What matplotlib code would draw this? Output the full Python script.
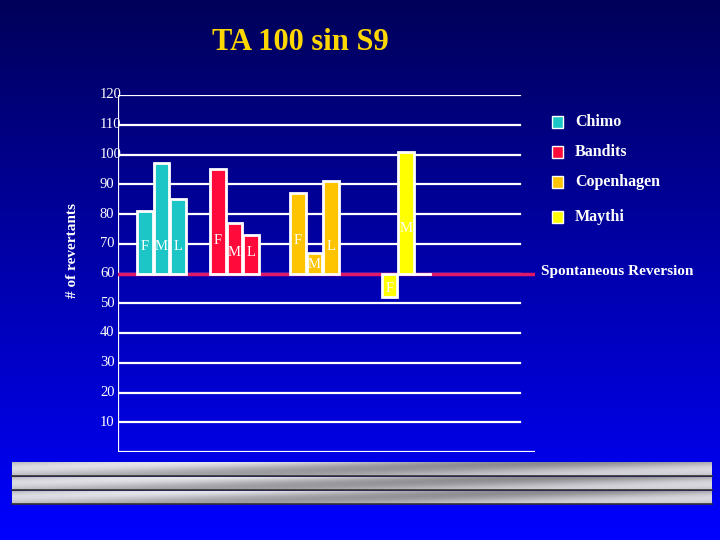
import matplotlib

matplotlib.use("Agg")
import matplotlib.pyplot as plt
import numpy as np

# data
groups = ["Chimo", "Bandits", "Copenhagen", "Maythi"]
colors = ["#1cc6c6", "#ff0a3a", "#ffc400", "#ffff00"]
labels = [["F", "M", "L"], ["F", "M", "L"], ["F", "M", "L"], ["F", "M"]]
values = [[81, 97, 85], [95, 77, 73], [87, 67, 91], [52, 101]]
baseline = 60
yticks = [10, 20, 30, 40, 50, 60, 70, 80, 90, 100, 110, 120]

W, H = 720, 540
fig = plt.figure(figsize=(7.2, 5.4), dpi=100)

# background gradient
bg = fig.add_axes([0, 0, 1, 1])
grad = np.linspace(0, 1, 256)[:, None]
top, bot = np.array([0.0, 0.0, 0.35]), np.array([0.0, 0.0, 1.0])
img = top + (bot - top) * grad[..., None]
bg.imshow(img, aspect="auto", extent=[0, W, H, 0])

# metallic bars at the bottom
for y0, y1 in [(462, 476), (477, 490), (491, 504)]:
    x = np.linspace(0, 1, 400)
    yy = np.linspace(0, 1, 20)[:, None]
    shade = np.clip(0.72 + 0.18 * np.sin(6 * x[None, :] + 3 * yy) * (1 - 0.5 * yy), 0, 1)
    bg.imshow(np.dstack([shade, shade, shade * 1.03]).clip(0, 1), aspect="auto",
              extent=[12, 712, y1, y0])
    bg.plot([12, 712], [y1, y1], color="#333333", lw=1.2)
bg.set_xlim(0, W); bg.set_ylim(H, 0); bg.axis("off")

serif = "Liberation Serif"
fig.text(300 / W, 1 - 43 / H, "TA 100 sin S9", color="#ffd700", fontsize=22,
         fontweight="bold", family=serif, ha="center", va="center")

# chart axes in pixel-like units
x0, x1, ytop, ybot = 118, 535, 95, 452
ax = fig.add_axes([x0 / W, 1 - ybot / H, (x1 - x0) / W, (ybot - ytop) / H])
ax.set_xlim(0, x1 - x0); ax.set_ylim(0, 120)
ax.axis("off")
for t in yticks:
    ax.plot([0, 402], [t, t], color="white", lw=1.6, zorder=1)
    fig.text(100 / W, 1 - (ybot - (ybot - ytop) * t / 120) / H, str(t), color="white",
             fontsize=10.5, family=serif, ha="left", va="center")
ax.plot([0, 0], [0, 120], color="white", lw=1.6)
ax.plot([0, 417], [0, 0], color="white", lw=1.6)
ax.plot([0, 417], [baseline, baseline], color="#e0186a", lw=2.5, zorder=2)

starts = [19, 92, 172, 264]
bw = 15.5
label_y = [{"F": 69, "M": 69, "L": 69}, {"F": 71, "M": 67, "L": 67},
           {"F": 71, "M": 63, "L": 69}, {"F": 55, "M": 75}]
for gi, (vals, labs, c) in enumerate(zip(values, labels, colors)):
    for i, (v, lab) in enumerate(zip(vals, labs)):
        cx = starts[gi] + bw / 2 + i * (bw + 1)
        ax.bar(cx, v - baseline, width=bw, bottom=baseline, color=c,
               edgecolor="white", lw=2, zorder=3)
        ax.text(cx, label_y[gi][lab], lab, color="white", fontsize=10.5, family=serif,
                ha="center", va="center", zorder=4)
ax.plot([starts[3] + 2 * bw + 1, 312], [baseline, baseline], color="white", lw=2, zorder=4)

# legend
for name, c, y in zip(groups, colors, [122, 152, 182, 217]):
    fig.patches.append(plt.Rectangle((552 / W, 1 - (y + 6) / H), 11 / W, 12 / H,
                                     transform=fig.transFigure, facecolor=c,
                                     edgecolor="white", lw=1))
    fig.text(575 / W, 1 - y / H, name, color="white", fontsize=11.5,
             fontweight="bold", family=serif, va="center")
fig.text(541 / W, 1 - 272 / H, "Spontaneous Reversion", color="white", fontsize=11,
         fontweight="bold", family=serif, va="center")
fig.text(72 / W, 1 - 250 / H, "# of revertants", color="white", fontsize=11,
         fontweight="bold", family=serif, rotation=90, ha="center", va="center")

fig.savefig("out.png", dpi=100)
